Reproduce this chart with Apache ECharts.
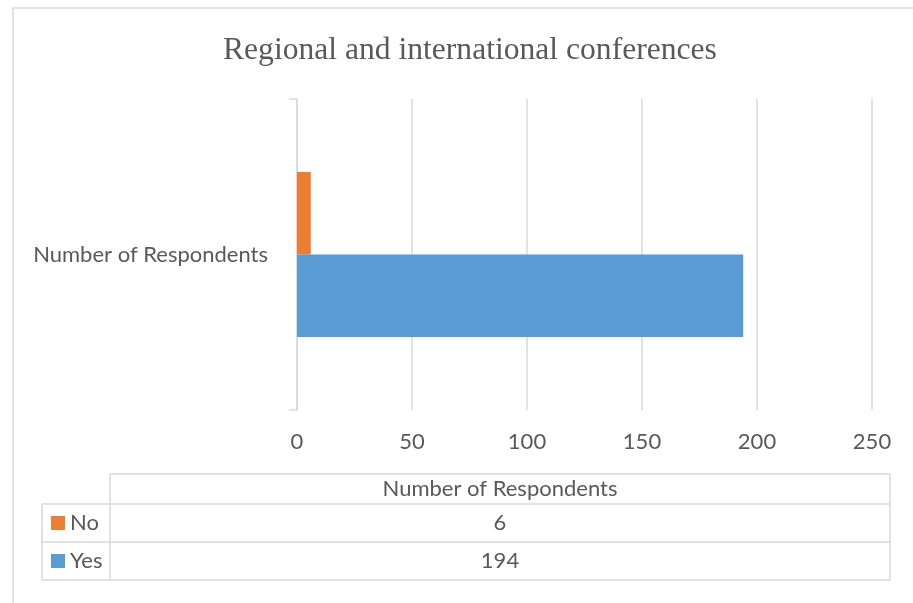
<!DOCTYPE html>
<html>
<head>
<meta charset="utf-8">
<style>
  html, body { margin: 0; padding: 0; background: #ffffff; }
  #chart { width: 913px; height: 603px; }
</style>
<script src="https://cdn.jsdelivr.net/npm/echarts@6/dist/echarts.min.js"></script>
</head>
<body>
<div id="chart"></div>
<script>
// Survey answers: attendance of regional and international conferences
const chartTitle = 'Regional and international conferences';
const categories = ['Number of Respondents'];
const seriesNames = ['No', 'Yes'];
const noValues = [6];
const yesValues = [194];
const xTicks = [0, 50, 100, 150, 200, 250];

const COLORS = { Yes: '#5B9BD5', No: '#ED7D31' };
const GRID_COLOR = '#D9D9D9';
const TEXT_COLOR = '#595959';
const FONT = 'Lato, "Open Sans", sans-serif';
const FS = 22;

const chart = echarts.init(document.getElementById('chart'), null, { renderer: 'canvas' });

// Data table under the plot: header row, then one row per series
const tableRows = [
  { name: seriesNames[0], values: noValues },
  { name: seriesNames[1], values: yesValues }
];
const tbl = { left: 42, keyRight: 110, right: 890, top: 474, headerH: 30, rowH: 38 };

function tableGraphics() {
  const g = [];
  const line = (x1, y1, x2, y2) => ({
    type: 'line', silent: true,
    shape: { x1, y1, x2, y2 },
    style: { stroke: GRID_COLOR, lineWidth: 1.5 }
  });
  const bodyTop = tbl.top + tbl.headerH;
  const bottom = bodyTop + tbl.rowH * tableRows.length;
  const colW = (tbl.right - tbl.keyRight) / categories.length;
  // header cell
  g.push(line(tbl.keyRight, tbl.top, tbl.right, tbl.top));
  g.push(line(tbl.keyRight, tbl.top, tbl.keyRight, bottom));
  g.push(line(tbl.right, tbl.top, tbl.right, bottom));
  g.push(line(tbl.left, bodyTop, tbl.right, bodyTop));
  g.push(line(tbl.left, bodyTop, tbl.left, bottom));
  categories.forEach((c, i) => {
    g.push({
      type: 'text', silent: true,
      x: tbl.keyRight + colW * (i + 0.5), y: tbl.top + tbl.headerH / 2,
      style: { text: c, fill: TEXT_COLOR, font: FS + 'px ' + FONT, align: 'center', verticalAlign: 'middle' }
    });
  });
  tableRows.forEach((r, i) => {
    const y0 = bodyTop + tbl.rowH * i;
    const yc = y0 + tbl.rowH / 2;
    g.push(line(tbl.left, y0 + tbl.rowH, tbl.right, y0 + tbl.rowH));
    // legend key
    g.push({
      type: 'rect', silent: true,
      shape: { x: 51, y: yc - 7, width: 14, height: 14 },
      style: { fill: COLORS[r.name] }
    });
    g.push({
      type: 'text', silent: true,
      x: 70, y: yc,
      style: { text: r.name, fill: TEXT_COLOR, font: FS + 'px ' + FONT, align: 'left', verticalAlign: 'middle' }
    });
    r.values.forEach((v, j) => {
      g.push({
        type: 'text', silent: true,
        x: tbl.keyRight + colW * (j + 0.5), y: yc,
        style: { text: String(v), fill: TEXT_COLOR, font: FS + 'px ' + FONT, align: 'center', verticalAlign: 'middle' }
      });
    });
  });
  // chart frame
  g.push({
    type: 'rect', silent: true,
    shape: { x: 13, y: 8, width: 1000, height: 1000 },
    style: { fill: 'none', stroke: GRID_COLOR, lineWidth: 1.5 }
  });
  return g;
}

const option = {
  backgroundColor: '#ffffff',
  animation: false,
  title: {
    text: chartTitle,
    left: 223,
    top: 35,
    padding: 0,
    textStyle: { fontFamily: '"Liberation Serif", "Times New Roman", serif', fontSize: 31.6, fontWeight: 'normal', color: TEXT_COLOR }
  },
  grid: { left: 297, right: 41, top: 99, bottom: 193, containLabel: false },
  xAxis: {
    type: 'value',
    min: xTicks[0],
    max: xTicks[xTicks.length - 1],
    interval: xTicks[1] - xTicks[0],
    axisLine: { show: false },
    axisTick: { show: false },
    splitLine: { show: true, lineStyle: { color: GRID_COLOR, width: 1.5 } },
    axisLabel: { color: TEXT_COLOR, fontFamily: FONT, fontSize: FS, margin: 21 }
  },
  yAxis: {
    type: 'category',
    data: categories,
    axisLine: { show: true, lineStyle: { color: GRID_COLOR, width: 1.5 } },
    axisTick: { show: true, length: 8, lineStyle: { color: GRID_COLOR, width: 1.5 } },
    axisLabel: { color: TEXT_COLOR, fontFamily: FONT, fontSize: FS, margin: 29 }
  },
  series: [
    {
      name: seriesNames[0], type: 'bar', data: noValues,
      itemStyle: { color: COLORS.No },
      barGap: '0%', barCategoryGap: '47%'
    },
    {
      name: seriesNames[1], type: 'bar', data: yesValues,
      itemStyle: { color: COLORS.Yes },
      barGap: '0%', barCategoryGap: '47%'
    }
  ],
  graphic: tableGraphics()
};

chart.setOption(option);
</script>
</body>
</html>
